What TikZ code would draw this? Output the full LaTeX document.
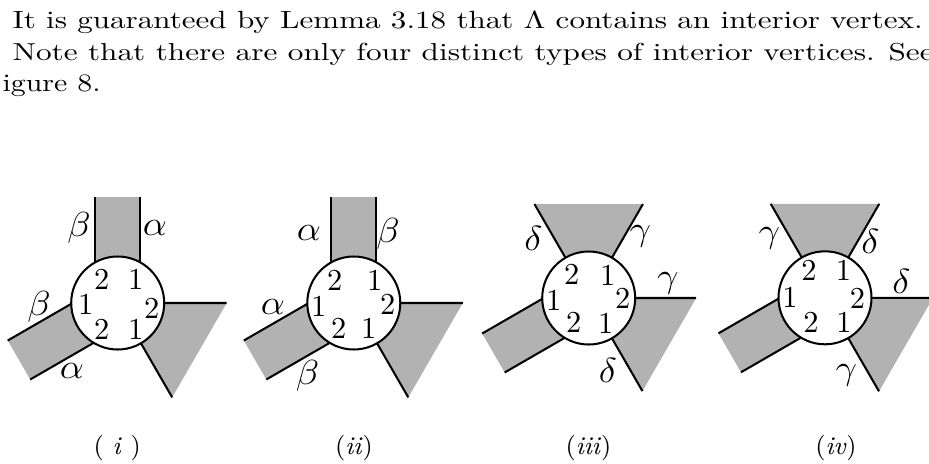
\documentclass[tikz,border=0pt]{standalone}
\usepackage{fontspec}
\begin{document}
\begin{tikzpicture}[x=0.3448pt,y=0.3448pt,
  edge/.style={line width=0.7pt,line cap=butt},
  shade/.style={fill=black!30},
  ring/.style={line width=0.7pt,fill=white},
  lab/.style={inner sep=0pt,font=\fontsize{12}{13}\selectfont},
  num/.style={inner sep=0pt,font=\fontsize{10.5}{11}\selectfont},
  captext/.style={inner sep=0pt,font=\fontsize{8.8}{10}\selectfont},
  txt/.style={inner sep=0pt,anchor=base west,font=\fontsize{10}{12}\selectfont}]
\useasboundingbox (0,0) rectangle (929,-463);
\clip (0,0) rectangle (929,-463);
\newcommand\bandshape[3]{%
  \begin{scope}[shift={(#1)},rotate=#2]
    \fill[shade] (0,-22.5) rectangle (#3,22.5);
    \draw[edge] (0,-22.5) -- (#3,-22.5) (0,22.5) -- (#3,22.5);
  \end{scope}}
\newcommand\wedgeshape[4]{%
  \begin{scope}[shift={(#1)}]
    \fill[shade] (0,0) -- (#2:#4) -- (#3:#4) -- cycle;
    \draw[edge] (#2:#4) -- (0,0) -- (#3:#4);
  \end{scope}}
\newcommand\numbers[7]{%
  \begin{scope}[shift={(#1)}]
    \node[num] (#1-a) at (#2) {2};
    \node[num] (#1-b) at (#3) {1};
    \node[num] (#1-c) at (#4) {1};
    \node[num] (#1-d) at (#5) {2};
    \node[num] (#1-e) at (#6) {2};
    \node[num] (#1-f) at (#7) {1};
  \end{scope}}
\newcommand\gk[1]{\scalebox{1.1}[1]{$#1$}}

% text
\node[txt] (t1) at (12,-28.3) {\resizebox{313.8pt}{5.96pt}{It is guaranteed by Lemma 3.18 that $\Lambda$ contains an interior vertex.}};
\node[txt] (t2) at (12,-60) {\resizebox{317.6pt}{5.96pt}{Note that there are only four distinct types of interior vertices. See}};
\node[txt] (t3) at (2,-91.7) {\resizebox{33.8pt}{5.75pt}{igure 8.}};

% centers
\coordinate (A) at (117.7,-303);
\coordinate (B) at (353.8,-303);
\coordinate (C) at (588.7,-298);
\coordinate (D) at (825,-297.8);

% (i)
\bandshape{A}{90}{106}
\bandshape{A}{210}{114}
\wedgeshape{A}{0}{-60}{109}
\draw[ring] (A) circle[radius=46.5];
\numbers{A}{-16,24}{18,24}{-32,-1}{34,-5}{-16,-26}{18,-26}
\node[lab] (a1) at (79,-228) {\gk{\beta}};
\node[lab] (a2) at (155,-228) {\gk{\alpha}};
\node[lab] (a3) at (39,-307) {\gk{\beta}};
\node[lab] (a4) at (72,-371) {\gk{\alpha}};
\node[captext] (ca) at (117.3,-448.5) {( \textit{i} )};

% (ii)
\bandshape{B}{90}{106}
\bandshape{B}{210}{114}
\wedgeshape{B}{0}{-60}{109}
\draw[ring] (B) circle[radius=46.5];
\numbers{B}{-19,23}{21,23}{-35,-3}{34,-1}{-15,-25}{15,-25}
\node[lab] (b1) at (309,-233) {\gk{\alpha}};
\node[lab] (b2) at (388,-234) {\gk{\beta}};
\node[lab] (b3) at (273,-307) {\gk{\alpha}};
\node[lab] (b4) at (307.5,-376) {\gk{\beta}};
\node[captext] (cb) at (354,-448.5) {(\textit{ii})};

% (iii)
\wedgeshape{C}{60}{120}{108.5}
\bandshape{C}{210}{110}
\wedgeshape{C}{0}{-60}{107.5}
\draw[ring] (C) circle[radius=46.5];
\numbers{C}{-17,24}{19,23}{-35,-2}{34,0}{-15,-24}{17,-25}
\node[lab] (c1) at (533.5,-238) {\gk{\delta}};
\node[lab] (c2) at (640.5,-236) {\gk{\gamma}};
\node[lab] (c3) at (668,-283) {\gk{\gamma}};
\node[lab] (c4) at (608,-370) {\gk{\delta}};
\node[captext] (cc) at (588.5,-448.5) {(\textit{iii})};

% (iv)
\wedgeshape{D}{60}{120}{108.5}
\bandshape{D}{210}{110}
\wedgeshape{D}{0}{-60}{108}
\draw[ring] (D) circle[radius=46.5];
\numbers{D}{-16,27}{18.5,27}{-35,0}{32.5,-1}{-14,-25}{19,-25}
\node[lab] (d1) at (769.5,-238) {\gk{\gamma}};
\node[lab] (d2) at (870.5,-241) {\gk{\delta}};
\node[lab] (d3) at (901.5,-281) {\gk{\delta}};
\node[lab] (d4) at (846.5,-375) {\gk{\gamma}};
\node[captext] (cd) at (836,-448.5) {(\textit{iv})};
\end{tikzpicture}
\end{document}
